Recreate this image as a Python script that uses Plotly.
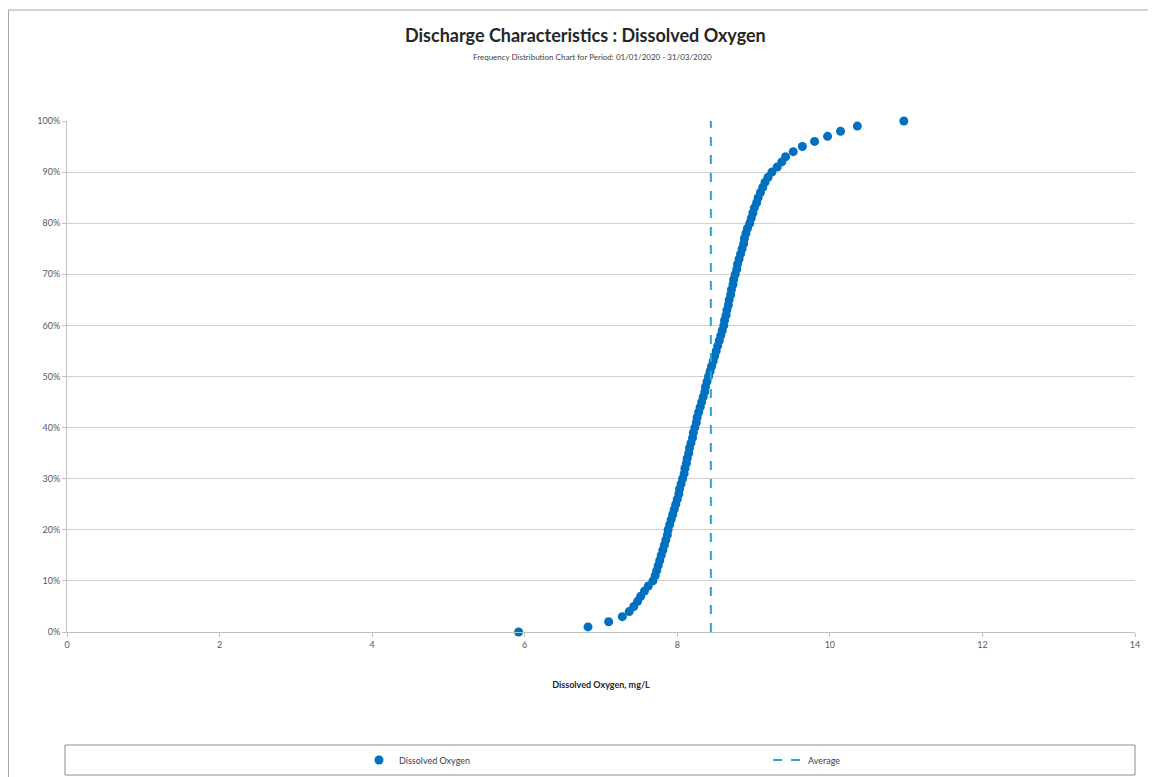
import plotly.graph_objects as go

# Cumulative frequency (fraction) vs dissolved oxygen (mg/L)
cum_freq = [i / 100 for i in range(101)]
do_values = [
    5.92, 6.83, 7.10, 7.28, 7.37, 7.43, 7.48, 7.52, 7.57, 7.62,
    7.68, 7.71, 7.73, 7.75, 7.77, 7.79, 7.81, 7.83, 7.85, 7.87,
    7.88, 7.90, 7.92, 7.94, 7.96, 7.98, 8.00, 8.02, 8.03, 8.05,
    8.07, 8.09, 8.10, 8.12, 8.13, 8.15, 8.16, 8.18, 8.20, 8.21,
    8.23, 8.25, 8.26, 8.28, 8.30, 8.32, 8.34, 8.36, 8.37, 8.39,
    8.41, 8.43, 8.45, 8.47, 8.49, 8.51, 8.53, 8.55, 8.57, 8.59,
    8.61, 8.62, 8.64, 8.65, 8.67, 8.68, 8.70, 8.71, 8.73, 8.74,
    8.76, 8.78, 8.79, 8.81, 8.83, 8.85, 8.87, 8.88, 8.90, 8.92,
    8.95, 8.97, 8.99, 9.01, 9.04, 9.06, 9.09, 9.12, 9.15, 9.19,
    9.24, 9.31, 9.37, 9.42, 9.52, 9.64, 9.80, 9.97, 10.14, 10.36,
    10.97,
]
average_do = 8.44
avg_y = [0, 1]

title_text = "Discharge Characteristics : Dissolved Oxygen"
subtitle_text = "Frequency Distribution Chart for Period: 01/01/2020 - 31/03/2020"
x_title = "Dissolved Oxygen, mg/L"

FONT = "Lato"

fig = go.Figure()
fig.add_trace(go.Scatter(
    x=do_values, y=cum_freq, mode="markers", name="Dissolved Oxygen",
    marker=dict(color="#0070C0", size=9), cliponaxis=False,
))
fig.add_trace(go.Scatter(
    x=[average_do, average_do], y=avg_y, mode="lines", name="Average",
    line=dict(color="#2AA5D3", width=2, dash="dash"),
))

OFF = 8  # page body margin
W, H = 1156 - OFF, 777 - OFF
# plot-area edges in screen coordinates (reference)
L, R, T, B = 67, 1135, 121, 632
pw, ph = R - L, B - T

def px(x):
    return (x - L) / pw

def py(y):
    return (B - y) / ph

fig.update_layout(
    width=W, height=H,
    margin=dict(l=L - OFF, r=W - (R - OFF), t=T - OFF, b=H - (B - OFF), autoexpand=False),
    paper_bgcolor="white", plot_bgcolor="white",
    font=dict(family=FONT, color="#595959", size=9),
    showlegend=True,
    legend=dict(
        orientation="h", x=px(359), xanchor="left", y=py(760), yanchor="middle",
        entrywidth=364, entrywidthmode="pixels", bgcolor="rgba(0,0,0,0)",
        font=dict(family=FONT, size=9, color="#404040"),
    ),
    xaxis=dict(
        range=[0, 14], dtick=2, tick0=0, showgrid=False, zeroline=False,
        showline=True, linecolor="#BFBFBF", linewidth=1,
        ticks="outside", ticklen=4, tickcolor="#BFBFBF",
        tickfont=dict(size=9, color="#595959"),
        title=dict(text="<b>" + x_title + "</b>", font=dict(size=9, color="#262626"), standoff=32),
    ),
    yaxis=dict(
        range=[0, 1], dtick=0.1, tickformat=".0%", showgrid=True, gridcolor="#D0D0D0",
        gridwidth=1, zeroline=False, showline=True, linecolor="#BFBFBF", linewidth=1,
        ticks="outside", ticklen=4, tickcolor="#BFBFBF",
        tickfont=dict(size=9, color="#595959"),
    ),
    shapes=[
        dict(type="rect", xref="paper", yref="paper", x0=px(8.5), x1=px(1175), y0=py(795), y1=py(10),
             line=dict(color="#A6A6A6", width=1), fillcolor="rgba(0,0,0,0)", layer="below"),
        dict(type="rect", xref="paper", yref="paper", x0=px(65), x1=px(1135), y0=py(775), y1=py(745),
             line=dict(color="#8C8C8C", width=1), fillcolor="rgba(0,0,0,0)"),
    ],
    annotations=[
        dict(text="<b>" + title_text + "</b>", xref="paper", yref="paper", x=px(585), y=py(35),
             xanchor="center", yanchor="middle", showarrow=False,
             font=dict(family=FONT, size=18, color="#262626")),
        dict(text=subtitle_text, xref="paper", yref="paper", x=px(592), y=py(57),
             xanchor="center", yanchor="middle", showarrow=False,
             font=dict(family=FONT, size=8, color="#404040")),
    ],
)

fig.write_html("out.html")
